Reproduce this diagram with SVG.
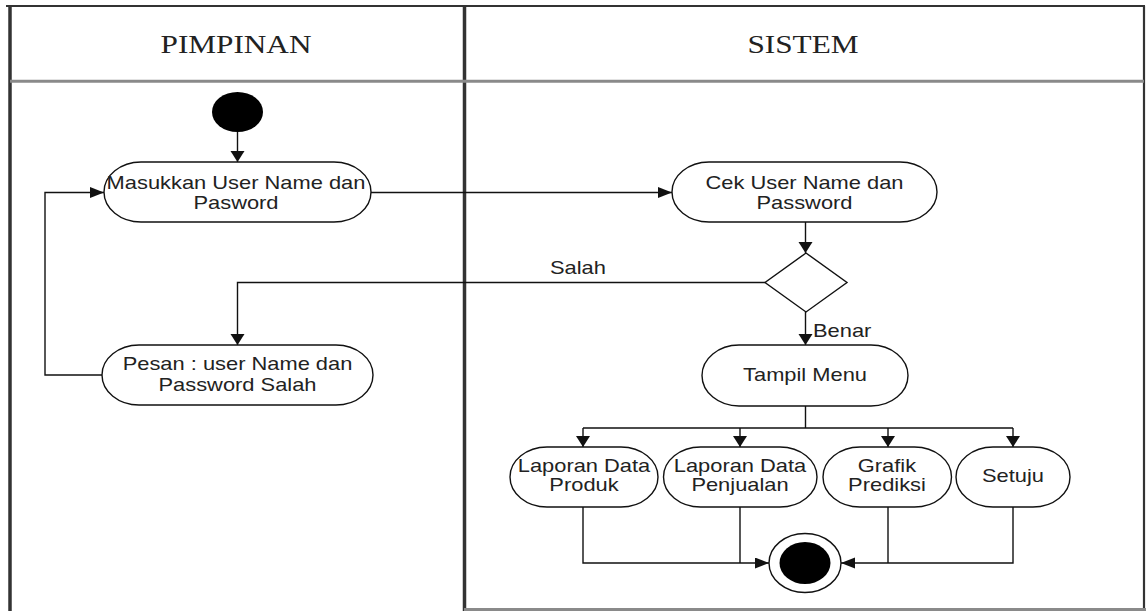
<svg xmlns="http://www.w3.org/2000/svg" width="1146" height="611" viewBox="0 0 1146 611">
  <style>
    .lane-dark { stroke: #333; fill: none; }
    .lane-grey { stroke: #8a8a8a; fill: none; }
    .title { font-family: "Liberation Serif", "Times New Roman", serif; font-size: 25px; fill: #222; text-anchor: middle; }
    .act { fill: #fff; stroke: #111; stroke-width: 1.4; }
    .lbl { font-family: "Liberation Sans", Arial, sans-serif; font-size: 17.5px; fill: #222; text-anchor: middle; }
    .tag { font-family: "Liberation Sans", Arial, sans-serif; font-size: 17.5px; fill: #222; }
    .flow { fill: none; stroke: #111; stroke-width: 1.4; }
    .flowH { fill: none; stroke: #111; stroke-width: 1.4; marker-end: url(#arrH); }
    .flowV { fill: none; stroke: #111; stroke-width: 1.4; marker-end: url(#arrV); }
  </style>
  <defs>
    <!-- arrowheads: the drawing is widened horizontally, so horizontal and vertical heads differ -->
    <marker id="arrH" markerUnits="userSpaceOnUse" markerWidth="16" markerHeight="12" refX="14" refY="5.5" orient="auto">
      <path d="M0,0 L14,5.5 L0,11 Z" fill="#111"/>
    </marker>
    <marker id="arrV" markerUnits="userSpaceOnUse" markerWidth="12" markerHeight="16" refX="11" refY="7" orient="auto">
      <path d="M0,0 L11,7 L0,14 Z" fill="#111"/>
    </marker>
  </defs>

  <rect x="0" y="0" width="1146" height="611" fill="#fff"/>

  <!-- swimlane frame -->
  <g id="lanes">
    <line x1="6" y1="6" x2="1145" y2="6" class="lane-dark" stroke-width="2"/>
    <line x1="10" y1="6" x2="10" y2="611" class="lane-dark" stroke-width="3.5" stroke="#4a4a4a"/>
    <line x1="464.5" y1="6" x2="464.5" y2="611" class="lane-dark" stroke-width="3.5" stroke="#4a4a4a"/>
    <line x1="1144" y1="6" x2="1144" y2="611" class="lane-dark" stroke-width="2.2"/>
    <line x1="10" y1="81.3" x2="1144" y2="81.3" class="lane-grey" stroke-width="3"/>
    <line x1="464" y1="609.5" x2="1146" y2="609.5" class="lane-grey" stroke="#777" stroke-width="3"/>
    <text class="title" transform="translate(236,53) scale(1.25,1)">PIMPINAN</text>
    <text class="title" transform="translate(803,53) scale(1.25,1)">SISTEM</text>
  </g>

  <!-- connectors -->
  <g id="connectors">
    <path class="flowV" d="M237.5,132 V162"/>
    <path class="flowH" d="M371,192.5 H672"/>
    <path class="flowV" d="M805.5,222 V253"/>
    <path class="flowV" d="M765,282.5 H237.5 V345"/>
    <path class="flowV" d="M805.5,312 V345"/>
    <path class="flowH" d="M102,375 H45 V192.5 H104"/>
    <path class="flow" d="M805.5,406 V428 M583,428 H1013"/>
    <path class="flowV" d="M583,428 V447"/>
    <path class="flowV" d="M740,428 V447"/>
    <path class="flowV" d="M888,428 V447"/>
    <path class="flowV" d="M1013,428 V447"/>
    <path class="flowH" d="M583,507 V563 H769"/>
    <path class="flow" d="M740,507 V563"/>
    <path class="flow" d="M888,507 V563"/>
    <path class="flowH" d="M1013,507 V563 H841"/>
    <text class="tag" transform="translate(550,274) scale(1.25,1)">Salah</text>
    <text class="tag" transform="translate(813,337) scale(1.25,1)">Benar</text>
  </g>

  <g id="start">
    <ellipse cx="237.5" cy="112" rx="25.5" ry="20" fill="#000"/>
  </g>

  <g id="masukkan">
    <rect class="act" x="104" y="162" width="267" height="60" rx="37" ry="30"/>
    <text class="lbl" transform="translate(236,189) scale(1.25,1)"><tspan x="0" y="0">Masukkan User Name dan</tspan><tspan x="0" y="20">Pasword</tspan></text>
  </g>

  <g id="cek">
    <rect class="act" x="672" y="162" width="265" height="60" rx="37" ry="30"/>
    <text class="lbl" transform="translate(804.5,189) scale(1.25,1)"><tspan x="0" y="0">Cek User Name dan</tspan><tspan x="0" y="20">Password</tspan></text>
  </g>

  <g id="decision">
    <polygon class="act" points="806,253 847,282.5 806,312 765,282.5"/>
  </g>

  <g id="pesan">
    <rect class="act" x="102" y="345" width="271" height="60" rx="37" ry="30"/>
    <text class="lbl" transform="translate(237.5,370) scale(1.25,1)"><tspan x="0" y="0">Pesan : user Name dan</tspan><tspan x="0" y="21">Password Salah</tspan></text>
  </g>

  <g id="tampil">
    <rect class="act" x="702" y="345" width="206" height="61" rx="37" ry="30.5"/>
    <text class="lbl" transform="translate(805,380.5) scale(1.25,1)">Tampil Menu</text>
  </g>

  <g id="produk">
    <rect class="act" x="510" y="447" width="148" height="60" rx="37" ry="30"/>
    <text class="lbl" transform="translate(584,471.5) scale(1.25,1)"><tspan x="0" y="0">Laporan Data</tspan><tspan x="0" y="20">Produk</tspan></text>
  </g>

  <g id="penjualan">
    <rect class="act" x="663.5" y="447" width="153.5" height="60" rx="37" ry="30"/>
    <text class="lbl" transform="translate(740,471.5) scale(1.25,1)"><tspan x="0" y="0">Laporan Data</tspan><tspan x="0" y="20">Penjualan</tspan></text>
  </g>

  <g id="grafik">
    <rect class="act" x="823" y="447" width="128.5" height="60" rx="37" ry="30"/>
    <text class="lbl" transform="translate(887,471.5) scale(1.25,1)"><tspan x="0" y="0">Grafik</tspan><tspan x="0" y="20">Prediksi</tspan></text>
  </g>

  <g id="setuju">
    <rect class="act" x="956" y="447" width="114" height="60" rx="37" ry="30"/>
    <text class="lbl" transform="translate(1013,481.5) scale(1.25,1)">Setuju</text>
  </g>

  <g id="end">
    <ellipse cx="805" cy="563" rx="36" ry="29.5" fill="#fff" stroke="#111" stroke-width="1.4"/>
    <ellipse cx="805" cy="563" rx="25.5" ry="21" fill="#000"/>
  </g>
</svg>
